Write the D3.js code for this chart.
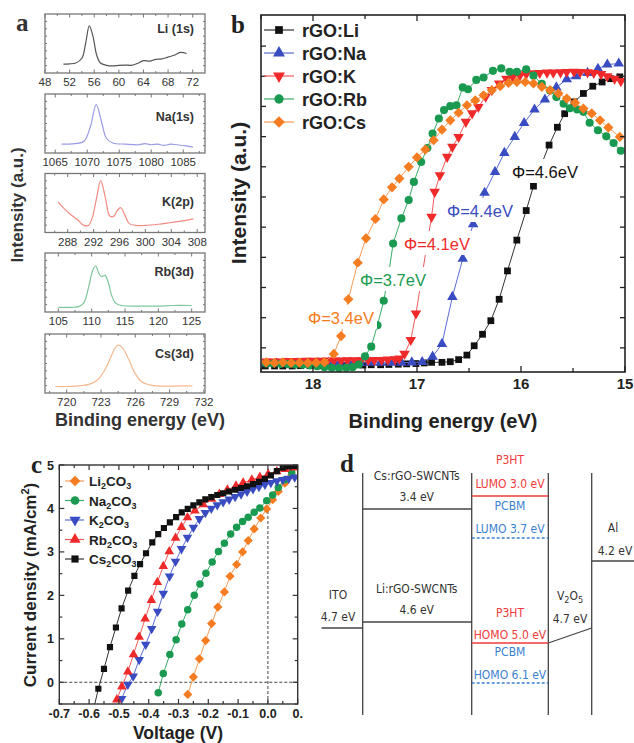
<!DOCTYPE html>
<html><head><meta charset="utf-8">
<script src="https://cdn.jsdelivr.net/npm/d3@7"></script>
<style>body{margin:0;background:#fff}svg{display:block}</style>
</head><body>
<svg id="fig" width="634" height="743"></svg>
<script>
// ================= DATA =================
// Panel a: XPS core-level spectra [binding energy (eV), normalized intensity]
const aNames = ["Li (1s)", "Na(1s)", "K(2p)", "Rb(3d)", "Cs(3d)"];
const aLiTicks = [48, 52, 56, 60, 64, 68, 72];
const aNaTicks = [1065, 1070, 1075, 1080, 1085];
const aKTicks = [288, 292, 296, 300, 304, 308];
const aRbTicks = [105, 110, 115, 120, 125];
const aCsTicks = [720, 723, 726, 729, 732];
const aLi = [[51,0.15],[52,0.155],[53,0.17],[54,0.25],[54.6,0.5],[55.2,0.8],[55.8,0.62],[56.4,0.3],[57,0.17],[58,0.13],[59,0.12],[60,0.13],[61,0.135],[62,0.13],[63,0.16],[64,0.21],[65,0.2],[66,0.23],[67,0.24],[68,0.27],[69,0.3],[70,0.35],[71,0.33]];
const aNa = [[1066,0.15],[1068,0.16],[1069.5,0.2],[1070.5,0.45],[1071.4,0.82],[1072.3,0.5],[1073,0.25],[1074,0.17],[1076,0.15],[1078,0.14],[1079,0.16],[1080,0.14],[1081,0.15],[1082,0.13],[1083,0.15],[1084,0.14],[1085.5,0.12],[1086.5,0.1]];
const aK = [[286.5,0.52],[287.5,0.4],[288.5,0.3],[289.5,0.22],[290.5,0.12],[291.2,0.12],[291.8,0.25],[292.4,0.55],[293.1,0.88],[293.8,0.6],[294.5,0.28],[295.1,0.27],[295.7,0.38],[296.2,0.42],[296.8,0.3],[297.5,0.15],[298.5,0.12],[300,0.12],[302,0.14],[304,0.17],[306,0.2],[307.4,0.23]];
const aRb = [[105,0.08],[107,0.08],[108,0.09],[108.8,0.15],[109.5,0.4],[110.2,0.72],[110.6,0.78],[111.1,0.65],[111.5,0.6],[112,0.62],[112.5,0.5],[113,0.28],[113.6,0.15],[114.5,0.11],[117,0.1],[120,0.1],[122,0.11],[125,0.11]];
const aCs = [[719,0.11],[720,0.11],[721,0.12],[722,0.15],[722.7,0.22],[723.3,0.38],[723.8,0.58],[724.2,0.75],[724.5,0.81],[724.9,0.76],[725.4,0.58],[725.9,0.36],[726.5,0.2],[727.2,0.14],[728,0.12],[729,0.115],[730,0.12],[731,0.12]];

// Panel b: UPS secondary-electron cutoff [binding energy (eV), intensity (a.u.)]
const bNames = ["rGO:Li", "rGO:Na", "rGO:K", "rGO:Rb", "rGO:Cs"];
const bTicks = [18, 17, 16, 15];
const bWorkFn = ["Φ=4.6eV", "Φ=4.4eV", "Φ=4.1eV", "Φ=3.7eV", "Φ=3.4eV"];
const bLi = [[18.46,0.40],[18.37,0.40],[18.29,0.40],[18.20,0.40],[18.12,0.41],[18.03,0.41],[17.95,0.41],[17.86,0.42],[17.78,0.42],[17.69,0.42],[17.61,0.43],[17.52,0.43],[17.44,0.44],[17.35,0.44],[17.27,0.45],[17.18,0.46],[17.10,0.47],[17.01,0.48],[16.93,0.50],[16.86,0.52],[16.76,0.52],[16.68,0.54],[16.60,0.61],[16.52,0.76],[16.45,1.07],[16.37,1.45],[16.29,1.90],[16.21,2.61],[16.13,3.55],[16.04,4.57],[15.95,5.55],[15.88,6.36],[15.81,7.02],[15.73,7.72],[15.65,8.31],[15.58,8.76],[15.49,9.15],[15.40,9.43],[15.31,9.67],[15.22,9.81],[15.14,9.92],[15.05,9.98]];
const bNa = [[18.45,0.48],[18.35,0.48],[18.25,0.48],[18.15,0.49],[18.05,0.49],[17.95,0.49],[17.85,0.50],[17.75,0.50],[17.65,0.50],[17.55,0.50],[17.45,0.51],[17.35,0.51],[17.25,0.51],[17.15,0.51],[17.05,0.52],[16.95,0.53],[16.85,0.71],[16.76,1.13],[16.66,2.69],[16.56,3.95],[16.46,5.10],[16.35,6.14],[16.25,6.83],[16.16,7.46],[16.06,7.99],[15.97,8.45],[15.87,8.90],[15.77,9.23],[15.66,9.63],[15.56,9.90],[15.47,10.00],[15.36,10.11],[15.26,10.25],[15.17,10.39],[15.06,10.42]];
const bK = [[18.45,0.55],[18.38,0.55],[18.32,0.55],[18.25,0.56],[18.19,0.56],[18.12,0.56],[18.06,0.57],[17.99,0.57],[17.93,0.57],[17.86,0.58],[17.80,0.58],[17.73,0.58],[17.67,0.59],[17.60,0.59],[17.54,0.59],[17.47,0.60],[17.41,0.60],[17.34,0.60],[17.28,0.61],[17.21,0.62],[17.17,0.65],[17.12,0.80],[17.06,1.26],[17.01,2.14],[16.96,3.20],[16.91,4.30],[16.86,5.34],[16.83,6.17],[16.78,6.72],[16.71,7.33],[16.66,7.66],[16.60,7.99],[16.53,8.49],[16.47,8.77],[16.41,8.98],[16.34,9.32],[16.28,9.54],[16.21,9.76],[16.14,9.92],[16.08,9.98],[16.01,10.03],[15.95,10.07],[15.88,10.10],[15.82,10.11],[15.75,10.12],[15.69,10.12],[15.62,10.13],[15.56,10.14],[15.49,10.15],[15.43,10.14],[15.36,10.13],[15.30,10.11],[15.23,10.07],[15.17,10.00],[15.10,9.92],[15.04,9.84]];
const bRb = [[18.45,0.48],[18.38,0.48],[18.31,0.47],[18.24,0.46],[18.17,0.45],[18.10,0.44],[18.03,0.42],[17.96,0.39],[17.89,0.36],[17.82,0.34],[17.75,0.33],[17.68,0.34],[17.62,0.36],[17.56,0.45],[17.50,0.72],[17.44,1.04],[17.38,1.75],[17.32,2.56],[17.27,3.50],[17.23,4.46],[17.15,5.29],[17.08,5.90],[17.03,6.50],[16.96,7.16],[16.90,7.62],[16.85,8.10],[16.79,8.60],[16.74,8.88],[16.68,9.01],[16.62,9.04],[16.56,9.63],[16.51,9.57],[16.43,9.88],[16.36,9.96],[16.27,10.18],[16.19,10.26],[16.11,10.15],[16.04,10.15],[15.95,10.23],[15.88,10.02],[15.80,9.75],[15.72,9.53],[15.66,9.31],[15.59,9.09],[15.53,8.94],[15.46,8.90],[15.40,8.82],[15.34,8.46],[15.26,8.21],[15.18,8.01],[15.11,7.79],[15.04,7.53]];
const bCs = [[18.45,0.52],[18.37,0.50],[18.29,0.52],[18.21,0.50],[18.13,0.51],[18.05,0.50],[17.97,0.51],[17.89,0.52],[17.80,0.80],[17.73,1.39],[17.66,2.61],[17.57,3.82],[17.49,4.63],[17.40,5.27],[17.32,5.92],[17.24,6.32],[17.17,6.61],[17.08,7.00],[17.00,7.31],[16.92,7.57],[16.84,7.88],[16.76,8.23],[16.68,8.54],[16.60,8.79],[16.52,9.04],[16.44,9.20],[16.36,9.37],[16.28,9.54],[16.20,9.67],[16.12,9.78],[16.04,9.81],[15.96,9.81],[15.88,9.76],[15.80,9.65],[15.72,9.54],[15.64,9.43],[15.56,9.26],[15.48,9.12],[15.40,8.93],[15.32,8.77],[15.24,8.54],[15.16,8.30],[15.05,7.99]];

// Panel c: J-V curves [voltage (V), current density (mA/cm2)]
const cNames = [["Li","2","CO","3"],["Na","2","CO","3"],["K","2","CO","3"],["Rb","2","CO","3"],["Cs","2","CO","3"]];
const cXTicks = [-0.7,-0.6,-0.5,-0.4,-0.3,-0.2,-0.1,0.0,0.1];
const cXTickLabels = ["-0.7","-0.6","-0.5","-0.4","-0.3","-0.2","-0.1","0.0","0."];
const cYTicks = [0,1,2,3,4,5];
const cLi = [[-0.269,-0.28],[-0.250,0.12],[-0.230,0.54],[-0.209,0.96],[-0.189,1.35],[-0.168,1.73],[-0.146,2.08],[-0.127,2.44],[-0.105,2.71],[-0.085,3.00],[-0.066,3.26],[-0.046,3.53],[-0.024,3.78],[-0.004,3.99],[0.016,4.20],[0.035,4.39],[0.057,4.58],[0.080,4.77]];
const cNa = [[-0.368,-0.24],[-0.351,0.20],[-0.329,0.64],[-0.308,0.98],[-0.289,1.34],[-0.269,1.67],[-0.247,2.00],[-0.228,2.26],[-0.208,2.51],[-0.187,2.77],[-0.166,3.01],[-0.146,3.20],[-0.125,3.41],[-0.105,3.57],[-0.085,3.70],[-0.066,3.80],[-0.046,3.91],[-0.027,4.01],[-0.004,4.18],[0.016,4.31],[0.035,4.48],[0.057,4.66],[0.080,4.83]];
const cK = [[-0.491,-0.38],[-0.470,-0.05],[-0.452,0.14],[-0.432,0.52],[-0.410,0.87],[-0.390,1.23],[-0.370,1.63],[-0.351,2.04],[-0.330,2.44],[-0.310,2.78],[-0.290,3.07],[-0.270,3.33],[-0.250,3.56],[-0.230,3.76],[-0.210,3.90],[-0.190,4.00],[-0.170,4.08],[-0.150,4.15],[-0.130,4.21],[-0.110,4.27],[-0.090,4.33],[-0.070,4.39],[-0.050,4.45],[-0.030,4.50],[-0.010,4.55],[0.010,4.59],[0.030,4.63],[0.050,4.66],[0.070,4.69],[0.090,4.72]];
const cRb = [[-0.507,-0.40],[-0.490,-0.10],[-0.470,0.24],[-0.451,0.64],[-0.432,1.04],[-0.412,1.46],[-0.391,1.89],[-0.371,2.30],[-0.351,2.67],[-0.331,3.01],[-0.310,3.32],[-0.290,3.57],[-0.270,3.79],[-0.245,3.95],[-0.217,4.09],[-0.189,4.22],[-0.163,4.33],[-0.136,4.43],[-0.107,4.52],[-0.083,4.59],[-0.054,4.66],[-0.027,4.72],[0.001,4.79],[0.030,4.85],[0.057,4.90],[0.085,4.94]];
const cCs = [[-0.585,-0.62],[-0.569,-0.15],[-0.550,0.31],[-0.530,0.81],[-0.510,1.26],[-0.491,1.70],[-0.469,2.11],[-0.448,2.45],[-0.429,2.72],[-0.409,2.97],[-0.388,3.22],[-0.368,3.41],[-0.349,3.55],[-0.329,3.68],[-0.308,3.80],[-0.289,3.91],[-0.269,3.99],[-0.250,4.07],[-0.230,4.14],[-0.210,4.21],[-0.190,4.26],[-0.170,4.31],[-0.150,4.35],[-0.130,4.39],[-0.110,4.43],[-0.090,4.47],[-0.070,4.51],[-0.050,4.56],[-0.030,4.61],[-0.010,4.68],[0.010,4.76],[0.030,4.86],[0.050,4.94],[0.070,4.97],[0.090,4.98]];
const cJscLi = 4.0;

// Panel d: energy levels (eV)
const dElectrodes = [{name:"ITO", e:4.7}, {name:"Al", e:4.2}];
const dEtl = [{name:"Cs:rGO-SWCNTs", e:3.4}, {name:"Li:rGO-SWCNTs", e:4.6}];
const dActive = [{mat:"P3HT", kind:"LUMO", e:3.0, col:"#f03a3a", dash:false},
                 {mat:"PCBM", kind:"LUMO", e:3.7, col:"#3a7fd0", dash:true},
                 {mat:"P3HT", kind:"HOMO", e:5.0, col:"#f03a3a", dash:false},
                 {mat:"PCBM", kind:"HOMO", e:6.1, col:"#3a7fd0", dash:true}];
const dV2O5 = {e:4.7, from:5.0};
const dLevels = [3.0, 3.4, 3.7, 4.2, 4.6, 4.7, 5.0, 6.1];

// ================= DRAWING =================
const svg = d3.select("#fig");
const BOLD = "Arial, 'Liberation Sans', Helvetica, sans-serif";
function marker(g, type, x, y, size, fill) {
  let p, rot = 0;
  if (type === "square") p = d3.symbol().type(d3.symbolSquare).size(size)();
  else if (type === "up") p = d3.symbol().type(d3.symbolTriangle).size(size)();
  else if (type === "down") { p = d3.symbol().type(d3.symbolTriangle).size(size)(); rot = 180; }
  else if (type === "circle") p = d3.symbol().type(d3.symbolCircle).size(size)();
  else if (type === "diamond") { p = d3.symbol().type(d3.symbolSquare).size(size)(); rot = 45; }
  return g.append("path").attr("d", p).attr("fill", fill)
    .attr("transform", `translate(${x},${y}) rotate(${rot})`);
}
function ticksX(g, sx, vals, yTop, yBot, len, col, sw) {
  vals.forEach(v => {
    const X = sx(v);
    g.append("line").attr("x1", X).attr("x2", X).attr("y1", yBot).attr("y2", yBot - len).attr("stroke", col).attr("stroke-width", sw);
    g.append("line").attr("x1", X).attr("x2", X).attr("y1", yTop).attr("y2", yTop + len).attr("stroke", col).attr("stroke-width", sw);
  });
}
function ticksY(g, sy, vals, xL, xR, len, col, sw) {
  vals.forEach(v => {
    const Y = sy(v);
    g.append("line").attr("x1", xL).attr("x2", xL + len).attr("y1", Y).attr("y2", Y).attr("stroke", col).attr("stroke-width", sw);
    g.append("line").attr("x1", xR).attr("x2", xR - len).attr("y1", Y).attr("y2", Y).attr("stroke", col).attr("stroke-width", sw);
  });
}
function mid(vals) { const o = []; for (let i = 0; i < vals.length - 1; i++) o.push((vals[i] + vals[i+1]) / 2); return o; }

// ---------- Panel a ----------
(function () {
  const g = svg.append("g");
  const data = [aLi, aNa, aK, aRb, aCs];
  const ticks = [aLiTicks, aNaTicks, aKTicks, aRbTicks, aCsTicks];
  const domains = [[48, 74], [1063.4, 1088.4], [284.5, 309.2], [103, 127], [718.1, 732.1]];
  const cols = ["#555555", "#9a9ae6", "#f28a80", "#7fc79b", "#f6b98e"];
  const x0 = 45, x1 = 205, h = 59, tops = [14, 94, 173.5, 253, 334];
  const labOff = [19, 27, 32, 23, 24];
  data.forEach((d, i) => {
    const top = tops[i], bot = top + h;
    const sx = d3.scaleLinear().domain(domains[i]).range([x0, x1]);
    const sy = d3.scaleLinear().domain([0, 1]).range([bot, top]);
    const sub = g.append("g");
    sub.append("path").datum(d)
      .attr("d", d3.line().x(p => sx(p[0])).y(p => sy(p[1])).curve(d3.curveCatmullRom.alpha(0.5)))
      .attr("fill", "none").attr("stroke", cols[i]).attr("stroke-width", 1.2);
    sub.append("rect").attr("x", x0).attr("y", top).attr("width", x1 - x0).attr("height", h)
      .attr("fill", "none").attr("stroke", "#777").attr("stroke-width", 1.3);
    ticksX(sub, sx, ticks[i], top, bot, 3.5, "#777", 1);
    const mt = mid(ticks[i]);
    mt.push(ticks[i][0] - (ticks[i][1] - ticks[i][0]) / 2);
    mt.push(ticks[i][ticks[i].length-1] + (ticks[i][1] - ticks[i][0]) / 2);
    ticksX(sub, sx, mt.filter(v => sx(v) > x0 + 1 && sx(v) < x1 - 1), top, bot, 2, "#777", 1);
    ticksY(sub, sy, [0.125, 0.25, 0.375, 0.5, 0.625, 0.75, 0.875], x0, x1, 2, "#777", 1);
    sub.selectAll("text.tk").data(ticks[i]).enter().append("text")
      .attr("x", v => sx(v)).attr("y", bot + 13).attr("text-anchor", "middle")
      .attr("font-family", BOLD).attr("font-size", 11.5).attr("fill", "#333").text(v => v);
    sub.append("text").attr("x", 194).attr("y", top + labOff[i]).attr("text-anchor", "end")
      .attr("font-family", BOLD).attr("font-weight", "bold").attr("font-size", 12.5).attr("fill", "#333").text(aNames[i]);
  });
  g.append("text").attr("transform", "translate(23,205) rotate(-90)").attr("text-anchor", "middle")
    .attr("font-family", BOLD).attr("font-weight", "bold").attr("font-size", 17).attr("fill", "#333").text("Intensity (a.u.)");
  g.append("text").attr("x", 140).attr("y", 426).attr("text-anchor", "middle")
    .attr("font-family", BOLD).attr("font-weight", "bold").attr("font-size", 18).attr("fill", "#333").text("Binding energy (eV)");
  g.append("text").attr("x", 16).attr("y", 31).attr("font-family", "'Liberation Serif','Times New Roman',serif")
    .attr("font-weight", "bold").attr("font-size", 25).attr("fill", "#333").text("a");
})();

// ---------- Panel b ----------
(function () {
  const g = svg.append("g");
  const L = 261, R = 625, T = 15, B = 372;
  const sx = d3.scaleLinear().domain([18.5, 15]).range([L, R]);
  const sy = d3.scaleLinear().domain([0.2, 12.03]).range([B, T]);
  const data = [bLi, bNa, bK, bRb, bCs];
  const mk = ["square", "up", "down", "circle", "diamond"];
  const sizes = [46, 48, 48, 52, 52];
  const cols = ["#111111", "#3a4cc2", "#f02a2a", "#1a9a50", "#f57c20"];
  const lcols = ["#333333", "#5a6cd2", "#f05a5a", "#3aac68", "#f79a55"];
  svg.append("clipPath").attr("id", "clipb").append("rect").attr("x", L).attr("y", T).attr("width", R - L).attr("height", B - T);
  const pg = g.append("g").attr("clip-path", "url(#clipb)");
  data.forEach((d, i) => {
    pg.append("path").datum(d).attr("d", d3.line().x(p => sx(p[0])).y(p => sy(p[1])))
      .attr("fill", "none").attr("stroke", lcols[i]).attr("stroke-width", 1);
    d.forEach(p => marker(pg, mk[i], sx(p[0]), sy(p[1]), sizes[i], cols[i]));
  });
  const lab = [[545, 178], [480, 217], [437, 250], [393, 286], [341, 324]];
  bWorkFn.forEach((t, i) => {
    const tx = g.append("text").attr("x", lab[i][0]).attr("y", lab[i][1]).attr("text-anchor", "middle")
      .attr("font-family", BOLD).attr("font-size", 16.5).attr("fill", cols[i]).text(t);
    const bb = tx.node().getBBox();
    g.insert("rect", () => tx.node()).attr("x", bb.x - 3).attr("y", bb.y - 4).attr("width", bb.width + 6).attr("height", bb.height + 6).attr("fill", "#fff");
  });
  g.append("rect").attr("x", L).attr("y", T).attr("width", R - L).attr("height", B - T)
    .attr("fill", "none").attr("stroke", "#222").attr("stroke-width", 1.6);
  ticksX(g, sx, bTicks, T, B, 6, "#222", 1.3);
  ticksX(g, sx, [18.5, 17.5, 16.5, 15.5], T, B, 4, "#222", 1.3);
  ticksY(g, sy, [1,2,3,4,5,6,7,8,9,10,11], L, R, 5, "#222", 1.3);
  g.selectAll("text.tk").data(bTicks).enter().append("text")
    .attr("x", v => sx(v)).attr("y", 389).attr("text-anchor", "middle")
    .attr("font-family", BOLD).attr("font-weight", "bold").attr("font-size", 15).attr("fill", "#222").text(v => v);
  const ly = [30, 53, 76, 99, 122];
  bNames.forEach((n, i) => {
    g.append("line").attr("x1", 264).attr("x2", 294).attr("y1", ly[i]).attr("y2", ly[i]).attr("stroke", lcols[i]).attr("stroke-width", 1.2);
    marker(g, mk[i], 279, ly[i], sizes[i] * 1.3, cols[i]);
    g.append("text").attr("x", 302).attr("y", ly[i] + 6.5).attr("font-family", BOLD).attr("font-weight", "bold")
      .attr("font-size", 18).attr("fill", "#222").text(n);
  });
  g.append("text").attr("transform", "translate(246,193) rotate(-90)").attr("text-anchor", "middle")
    .attr("font-family", BOLD).attr("font-weight", "bold").attr("font-size", 21).attr("fill", "#222").text("Intensity (a.u.)");
  g.append("text").attr("x", 443).attr("y", 428).attr("text-anchor", "middle")
    .attr("font-family", BOLD).attr("font-weight", "bold").attr("font-size", 20).attr("fill", "#222").text("Binding energy (eV)");
  g.append("text").attr("x", 231).attr("y", 33).attr("font-family", "'Liberation Serif','Times New Roman',serif")
    .attr("font-weight", "bold").attr("font-size", 25).attr("fill", "#222").text("b");
})();

// ---------- Panel c ----------
(function () {
  const g = svg.append("g");
  const L = 59.3, R = 297.7, T = 465, B = 704;
  const sx = d3.scaleLinear().domain([-0.7, 0.1]).range([L, R]);
  const sy = d3.scaleLinear().domain([-0.5, 5.0]).range([B, T]);
  const data = [cLi, cNa, cK, cRb, cCs];
  const mk = ["diamond", "circle", "down", "up", "square"];
  const sizes = [42, 44, 40, 40, 38];
  const cols = ["#f57c20", "#1a9a50", "#3a4cc2", "#f02a2a", "#111111"];
  const lcols = ["#f79a55", "#3aac68", "#5a6cd2", "#f05a5a", "#333333"];
  svg.append("clipPath").attr("id", "clipc").append("rect").attr("x", L).attr("y", T).attr("width", R - L).attr("height", B - T);
  const pg = g.append("g").attr("clip-path", "url(#clipc)");
  pg.append("line").attr("x1", L).attr("x2", R).attr("y1", sy(0)).attr("y2", sy(0))
    .attr("stroke", "#444").attr("stroke-width", 1).attr("stroke-dasharray", "3,2");
  pg.append("line").attr("x1", sx(0)).attr("x2", sx(0)).attr("y1", B).attr("y2", sy(cJscLi))
    .attr("stroke", "#444").attr("stroke-width", 1).attr("stroke-dasharray", "3,2");
  data.forEach((d, i) => {
    pg.append("path").datum(d).attr("d", d3.line().x(p => sx(p[0])).y(p => sy(p[1])))
      .attr("fill", "none").attr("stroke", lcols[i]).attr("stroke-width", 1);
    d.forEach(p => marker(pg, mk[i], sx(p[0]), sy(p[1]), sizes[i], cols[i]));
  });
  g.append("rect").attr("x", L).attr("y", T).attr("width", R - L).attr("height", B - T)
    .attr("fill", "none").attr("stroke", "#333").attr("stroke-width", 1.4);
  ticksX(g, sx, cXTicks, T, B, 5, "#333", 1.2);
  ticksX(g, sx, mid(cXTicks), T, B, 3, "#333", 1.2);
  ticksY(g, sy, cYTicks, L, R, 5, "#333", 1.2);
  ticksY(g, sy, [-0.5, 0.5, 1.5, 2.5, 3.5, 4.5], L, R, 3, "#333", 1.2);
  g.selectAll("text.tx").data(cXTicks).enter().append("text")
    .attr("x", v => sx(v)).attr("y", 718).attr("text-anchor", "middle")
    .attr("font-family", BOLD).attr("font-weight", "bold").attr("font-size", 12.5).attr("fill", "#222")
    .text((v, i) => cXTickLabels[i]);
  g.selectAll("text.ty").data(cYTicks).enter().append("text")
    .attr("x", 54).attr("y", v => sy(v) + 4.5).attr("text-anchor", "end")
    .attr("font-family", BOLD).attr("font-weight", "bold").attr("font-size", 12.5).attr("fill", "#222").text(v => v);
  const ly = [481, 500.5, 520, 539.5, 559];
  cNames.forEach((n, i) => {
    g.append("line").attr("x1", 65).attr("x2", 84).attr("y1", ly[i]).attr("y2", ly[i]).attr("stroke", lcols[i]).attr("stroke-width", 1.2);
    marker(g, mk[i], 75, ly[i], sizes[i] * 1.35, cols[i]);
    const t = g.append("text").attr("x", 89).attr("y", ly[i] + 5).attr("font-family", BOLD).attr("font-weight", "bold")
      .attr("font-size", 13.5).attr("fill", "#222");
    t.append("tspan").text(n[0]);
    t.append("tspan").attr("font-size", 9).attr("dy", 3).text(n[1]);
    t.append("tspan").attr("dy", -3).text(n[2]);
    t.append("tspan").attr("font-size", 9).attr("dy", 3).text(n[3]);
  });
  const yt = g.append("text").attr("transform", "translate(36,585) rotate(-90)").attr("text-anchor", "middle")
    .attr("font-family", BOLD).attr("font-weight", "bold").attr("font-size", 17).attr("fill", "#222");
  yt.append("tspan").text("Current density (mA/cm");
  yt.append("tspan").attr("font-size", 11).attr("dy", -7).text("2");
  yt.append("tspan").attr("dy", 7).text(")");
  g.append("text").attr("x", 178).attr("y", 739).attr("text-anchor", "middle")
    .attr("font-family", BOLD).attr("font-weight", "bold").attr("font-size", 17.5).attr("fill", "#222").text("Voltage (V)");
  g.append("text").attr("x", 31).attr("y", 473).attr("font-family", "'Liberation Serif','Times New Roman',serif")
    .attr("font-weight", "bold").attr("font-size", 25).attr("fill", "#222").text("c");
})();

// ---------- Panel d ----------
(function () {
  const g = svg.append("g");
  const NF = "'Liberation Sans Narrow','Arial Narrow','DejaVu Sans Condensed',sans-serif";
  const fs = 12;
  const sy = d3.scaleLinear().domain(dLevels).range([496, 509, 538, 561, 622, 628, 643, 683]);
  const cx = [362.7, 471.7, 548.3, 591.7];
  const top = 473, bot = 715;
  cx.forEach(x => g.append("line").attr("x1", x).attr("x2", x).attr("y1", top).attr("y2", bot).attr("stroke", "#444").attr("stroke-width", 1.3));
  const txt = (x, y, s, col) => g.append("text").attr("x", x).attr("y", y).attr("text-anchor", "middle")
      .attr("font-family", NF).attr("font-size", fs).attr("fill", col || "#333").text(s);
  const ito = dElectrodes[0];
  g.append("line").attr("x1", 321.5).attr("x2", cx[0]).attr("y1", sy(ito.e)).attr("y2", sy(ito.e)).attr("stroke", "#444").attr("stroke-width", 1.3);
  txt(338, 599, ito.name); txt(338, 621, ito.e.toFixed(1) + " eV");
  dEtl.forEach(d => {
    g.append("line").attr("x1", cx[0]).attr("x2", cx[1]).attr("y1", sy(d.e)).attr("y2", sy(d.e)).attr("stroke", "#444").attr("stroke-width", 1.3);
    txt(416.7, sy(d.e) - 29, d.name); txt(416.7, sy(d.e) - 8, d.e.toFixed(1) + " eV");
  });
  dActive.forEach(d => {
    g.append("line").attr("x1", cx[1]).attr("x2", cx[2]).attr("y1", sy(d.e)).attr("y2", sy(d.e))
      .attr("stroke", d.col).attr("stroke-width", 1.3).attr("stroke-dasharray", d.dash ? "3,2" : null);
  });
  const ac = 510;
  txt(ac, 464, "P3HT", "#f03a3a"); txt(ac, 488, "LUMO 3.0 eV", "#f03a3a");
  txt(ac, 510, "PCBM", "#3a7fd0"); txt(ac, 533, "LUMO 3.7 eV", "#3a7fd0");
  txt(ac, 617, "P3HT", "#f03a3a"); txt(ac, 639, "HOMO 5.0 eV", "#f03a3a");
  txt(ac, 656, "PCBM", "#3a7fd0"); txt(ac, 679, "HOMO 6.1 eV", "#3a7fd0");
  g.append("line").attr("x1", cx[2]).attr("x2", cx[3]).attr("y1", sy(dV2O5.from)).attr("y2", sy(dV2O5.e)).attr("stroke", "#444").attr("stroke-width", 1.3);
  const v = g.append("text").attr("x", 570).attr("y", 600).attr("text-anchor", "middle").attr("font-family", NF).attr("font-size", fs).attr("fill", "#333");
  v.append("tspan").text("V"); v.append("tspan").attr("font-size", 9).attr("dy", 3).text("2");
  v.append("tspan").attr("dy", -3).text("O"); v.append("tspan").attr("font-size", 9).attr("dy", 3).text("5");
  txt(570, 623, dV2O5.e.toFixed(1) + " eV");
  const al = dElectrodes[1];
  g.append("line").attr("x1", cx[3]).attr("x2", 634).attr("y1", sy(al.e)).attr("y2", sy(al.e)).attr("stroke", "#444").attr("stroke-width", 1.3);
  txt(613, 532, al.name); txt(615, 555, al.e.toFixed(1) + " eV");
  g.append("text").attr("x", 340).attr("y", 472).attr("font-family", "'Liberation Serif','Times New Roman',serif")
    .attr("font-weight", "bold").attr("font-size", 25).attr("fill", "#222").text("d");
})();
</script></body></html>
